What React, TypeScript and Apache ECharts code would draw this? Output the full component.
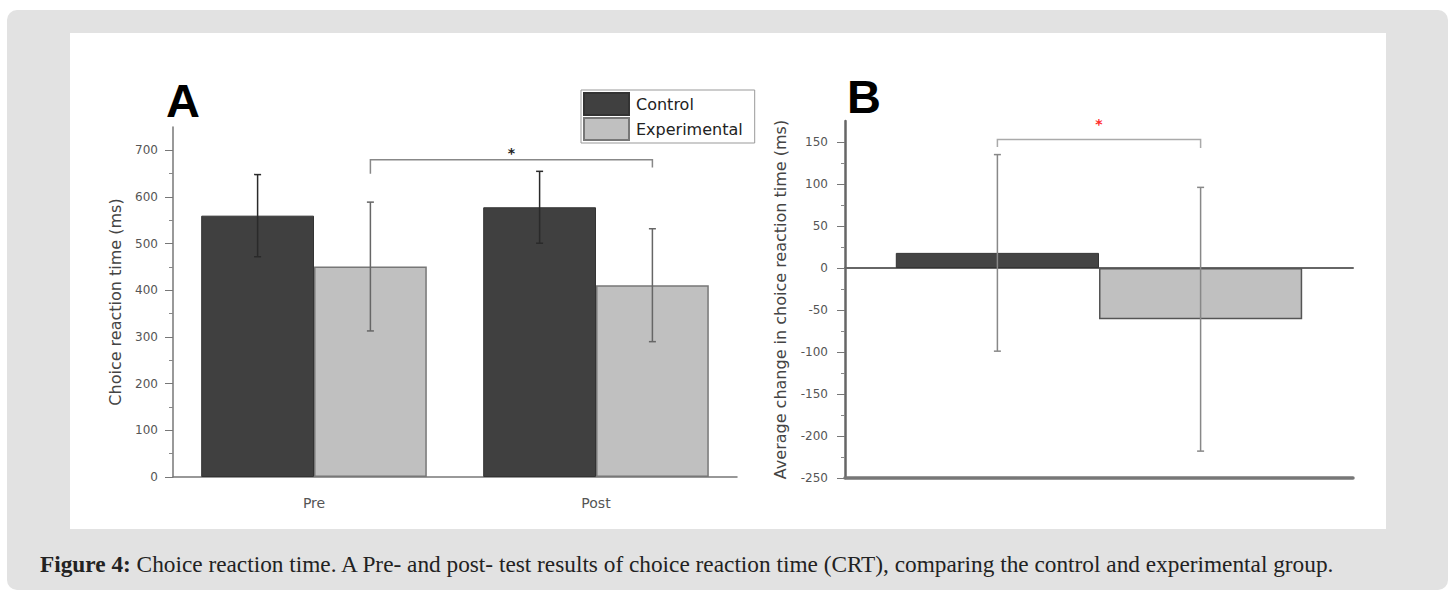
import React, { useEffect, useRef } from "react";
import * as echarts from "echarts";

// ---------- data ----------
const categoriesA = ["Pre", "Post"];
const controlMeanA = [560, 578];
const controlSdA = [88, 77];
const expMeanA = [451, 411];
const expSdA = [138, 121];

const categoriesB = ["Change"];
const controlMeanB = [18];
const controlSdB = [117];
const expMeanB = [-61];
const expSdB = [157];

const majorTicksA = [0, 100, 200, 300, 400, 500, 600, 700];
const minorTicksA = [50, 150, 250, 350, 450, 550, 650];
const majorTicksB = [-250, -200, -150, -100, -50, 0, 50, 100, 150];
const minorTicksB = [-225, -175, -125, -75, -25, 25, 75, 125];

// bracket: [fromCategory, toCategory, leftFoot, top, rightFoot, starLevel]
const bracketA = [0, 1, 650, 680, 663, 695];
const bracketB = [0, 0, 144, 153, 143, 171];

const SANS = "DejaVu Sans";

function errRender(offset: number, color: string) {
  return (params: any, api: any) => {
    const c = api.value(0);
    const lo = api.value(1);
    const hi = api.value(2);
    const band = api.size([1, 0])[0];
    const pLo = api.coord([c, lo]);
    const pHi = api.coord([c, hi]);
    const x = pLo[0] + offset * band;
    const w = 3.5;
    const style = { stroke: color, lineWidth: 1.5 };
    return {
      type: "group",
      children: [
        { type: "line", shape: { x1: x, y1: pLo[1], x2: x, y2: pHi[1] }, style },
        { type: "line", shape: { x1: x - w, y1: pLo[1], x2: x + w, y2: pLo[1] }, style },
        { type: "line", shape: { x1: x - w, y1: pHi[1], x2: x + w, y2: pHi[1] }, style },
      ],
    };
  };
}

function bracketRender(offFrom: number, offTo: number, color: string, starColor: string, starSize: number) {
  return (params: any, api: any) => {
    const c0 = api.value(0);
    const c1 = api.value(1);
    const lf = api.value(2);
    const top = api.value(3);
    const rf = api.value(4);
    const star = api.value(5);
    const band = api.size([1, 0])[0];
    const a = api.coord([c0, lf]);
    const t = api.coord([c0, top]);
    const b = api.coord([c1, rf]);
    const s = api.coord([c0, star]);
    const x0 = a[0] + offFrom * band;
    const x1 = b[0] + offTo * band;
    return {
      type: "group",
      children: [
        {
          type: "polyline",
          shape: { points: [[x0, a[1]], [x0, t[1]], [x1, t[1]], [x1, b[1]]] },
          style: { stroke: color, lineWidth: 1.5, fill: "none" },
        },
        {
          type: "text",
          x: (x0 + x1) / 2,
          y: s[1],
          style: {
            text: "*",
            fill: starColor,
            fontSize: starSize,
            fontFamily: SANS,
            fontWeight: "bold",
            align: "center",
            verticalAlign: "middle",
            textAlign: "center",
            textVerticalAlign: "middle",
          },
        },
      ],
    };
  };
}

export default function App() {
  const ref = useRef<HTMLDivElement>(null);
  useEffect(() => {
    if (!ref.current) return;
    const chart = echarts.init(ref.current, null, { renderer: "svg" });

    const axisLabelStyle = { color: "#555", fontSize: 12, fontFamily: SANS };

    const option: any = {
      animation: false,
      backgroundColor: "#ffffff",
      graphic: [
        {
          type: "rect",
          z: -10,
          shape: { x: 7, y: 10, width: 1441, height: 580, r: 10 },
          style: { fill: "#e2e2e2" },
        },
        {
          type: "rect",
          z: -9,
          shape: { x: 70, y: 33, width: 1316, height: 496 },
          style: { fill: "#ffffff" },
        },
        {
          type: "text",
          x: 166,
          y: 100,
          style: {
            text: "A",
            fill: "#000",
            fontSize: 47,
            fontWeight: "bold",
            fontFamily: "Liberation Sans",
            align: "left",
            verticalAlign: "middle",
            textAlign: "left",
            textVerticalAlign: "middle",
          },
        },
        {
          type: "text",
          x: 847,
          y: 96,
          style: {
            text: "B",
            fill: "#000",
            fontSize: 47,
            fontWeight: "bold",
            fontFamily: "Liberation Sans",
            align: "left",
            verticalAlign: "middle",
            textAlign: "left",
            textVerticalAlign: "middle",
          },
        },
        {
          type: "text",
          x: 40,
          y: 564,
          style: {
            text:
              "{b|Figure 4:} Choice reaction time. A Pre- and post- test results of choice reaction time (CRT), comparing the control and experimental group.",
            fill: "#222",
            fontSize: 23.3,
            fontFamily: "Liberation Serif",
            align: "left",
            verticalAlign: "middle",
            textAlign: "left",
            textVerticalAlign: "middle",
            rich: {
              b: { fontWeight: "bold", fontSize: 23.3, fontFamily: "Liberation Serif", fill: "#222" },
            },
          },
        },
      ],
      legend: {
        data: ["Control", "Experimental"],
        orient: "vertical",
        left: 581,
        top: 90,
        itemWidth: 45,
        itemHeight: 22,
        itemGap: 1,
        padding: [2, 12, 2, 2],
        borderColor: "#999",
        borderWidth: 1,
        icon: "rect",
        textStyle: { fontSize: 16, fontFamily: SANS, color: "#222", padding: [0, 0, 0, 2] },
      },
      grid: [
        { left: 173, top: 127, width: 564, height: 350 },
        { left: 845, top: 121, width: 508, height: 357 },
      ],
      xAxis: [
        {
          type: "category",
          gridIndex: 0,
          data: categoriesA,
          axisLine: { lineStyle: { color: "#777", width: 1.5 } },
          axisTick: { alignWithLabel: true, length: 6, lineStyle: { color: "#777" } },
          axisLabel: { color: "#555", fontSize: 14, fontFamily: SANS, margin: 19 },
        },
        {
          type: "category",
          gridIndex: 1,
          data: categoriesB,
          axisLine: { onZero: true, lineStyle: { color: "#666", width: 2 } },
          axisTick: { show: false },
          axisLabel: { show: false },
        },
        {
          type: "category",
          gridIndex: 1,
          data: categoriesB,
          position: "bottom",
          axisLine: { onZero: false, lineStyle: { color: "#777", width: 3.5 } },
          axisTick: { show: false },
          axisLabel: { show: false },
        },
      ],
      yAxis: [
        {
          type: "value",
          gridIndex: 0,
          position: "left",
          min: 0,
          max: 750,
          splitLine: { show: false },
          axisLine: { show: true, lineStyle: { color: "#777", width: 1.5 } },
          axisTick: { show: true, length: 8, customValues: majorTicksA, lineStyle: { color: "#777" } },
          axisLabel: { ...axisLabelStyle, margin: 15, customValues: majorTicksA },
          name: "Choice reaction time (ms)",
          nameLocation: "middle",
          nameGap: 50,
          nameTextStyle: { fontSize: 16, fontFamily: SANS, color: "#444" },
        },
        {
          type: "value",
          gridIndex: 0,
          position: "left",
          offset: 0,
          min: 0,
          max: 750,
          splitLine: { show: false },
          axisLine: { show: false },
          axisTick: { show: true, length: 4, customValues: minorTicksA, lineStyle: { color: "#888" } },
          axisLabel: { show: false },
        },
        {
          type: "value",
          gridIndex: 1,
          position: "left",
          min: -250,
          max: 175,
          splitLine: { show: false },
          axisLine: { show: true, lineStyle: { color: "#666", width: 2.5 } },
          axisTick: { show: true, length: 8, customValues: majorTicksB, lineStyle: { color: "#777" } },
          axisLabel: { ...axisLabelStyle, margin: 17, customValues: majorTicksB },
          name: "Average change in choice reaction time (ms)",
          nameLocation: "middle",
          nameGap: 57,
          nameTextStyle: { fontSize: 16, fontFamily: SANS, color: "#444" },
        },
        {
          type: "value",
          gridIndex: 1,
          position: "left",
          offset: 0,
          min: -250,
          max: 175,
          splitLine: { show: false },
          axisLine: { show: false },
          axisTick: { show: true, length: 4, customValues: minorTicksB, lineStyle: { color: "#888" } },
          axisLabel: { show: false },
        },
      ],
      series: [
        {
          name: "Control",
          type: "bar",
          xAxisIndex: 0,
          yAxisIndex: 0,
          data: controlMeanA,
          barGap: "0%",
          barCategoryGap: "20%",
          itemStyle: { color: "#404040", borderColor: "#333", borderWidth: 1 },
        },
        {
          name: "Experimental",
          type: "bar",
          xAxisIndex: 0,
          yAxisIndex: 0,
          data: expMeanA,
          barGap: "0%",
          barCategoryGap: "20%",
          itemStyle: { color: "#c0c0c0", borderColor: "#777", borderWidth: 1.5 },
        },
        {
          name: "errA-control",
          type: "custom",
          xAxisIndex: 0,
          yAxisIndex: 0,
          z: 5,
          renderItem: errRender(-0.2, "#2a2a2a"),
          data: controlMeanA.map((m, i) => [i, m - controlSdA[i], m + controlSdA[i]]),
        },
        {
          name: "errA-exp",
          type: "custom",
          xAxisIndex: 0,
          yAxisIndex: 0,
          z: 5,
          renderItem: errRender(0.2, "#666"),
          data: expMeanA.map((m, i) => [i, m - expSdA[i], m + expSdA[i]]),
        },
        {
          name: "bracketA",
          type: "custom",
          xAxisIndex: 0,
          yAxisIndex: 0,
          z: 5,
          renderItem: bracketRender(0.2, 0.2, "#888", "#222", 14),
          data: [bracketA],
        },
        {
          name: "Control change",
          type: "bar",
          xAxisIndex: 1,
          yAxisIndex: 2,
          data: controlMeanB,
          barGap: "0%",
          barCategoryGap: "20%",
          itemStyle: { color: "#444", borderColor: "#333", borderWidth: 1 },
        },
        {
          name: "Experimental change",
          type: "bar",
          xAxisIndex: 1,
          yAxisIndex: 2,
          data: expMeanB,
          barGap: "0%",
          barCategoryGap: "20%",
          itemStyle: { color: "#c0c0c0", borderColor: "#555", borderWidth: 1.5 },
        },
        {
          name: "errB-control",
          type: "custom",
          xAxisIndex: 1,
          yAxisIndex: 2,
          z: 5,
          renderItem: errRender(-0.2, "#888"),
          data: controlMeanB.map((m, i) => [i, m - controlSdB[i], m + controlSdB[i]]),
        },
        {
          name: "errB-exp",
          type: "custom",
          xAxisIndex: 1,
          yAxisIndex: 2,
          z: 5,
          renderItem: errRender(0.2, "#888"),
          data: expMeanB.map((m, i) => [i, m - expSdB[i], m + expSdB[i]]),
        },
        {
          name: "bracketB",
          type: "custom",
          xAxisIndex: 1,
          yAxisIndex: 2,
          z: 5,
          renderItem: bracketRender(-0.2, 0.2, "#aaa", "#ff2a2a", 14),
          data: [bracketB],
        },
      ],
    };

    chart.setOption(option);
    return () => chart.dispose();
  }, []);

  return (
    <div
      ref={ref}
      style={{ position: "absolute", left: 0, top: 0, width: 1453, height: 592 }}
    />
  );
}
